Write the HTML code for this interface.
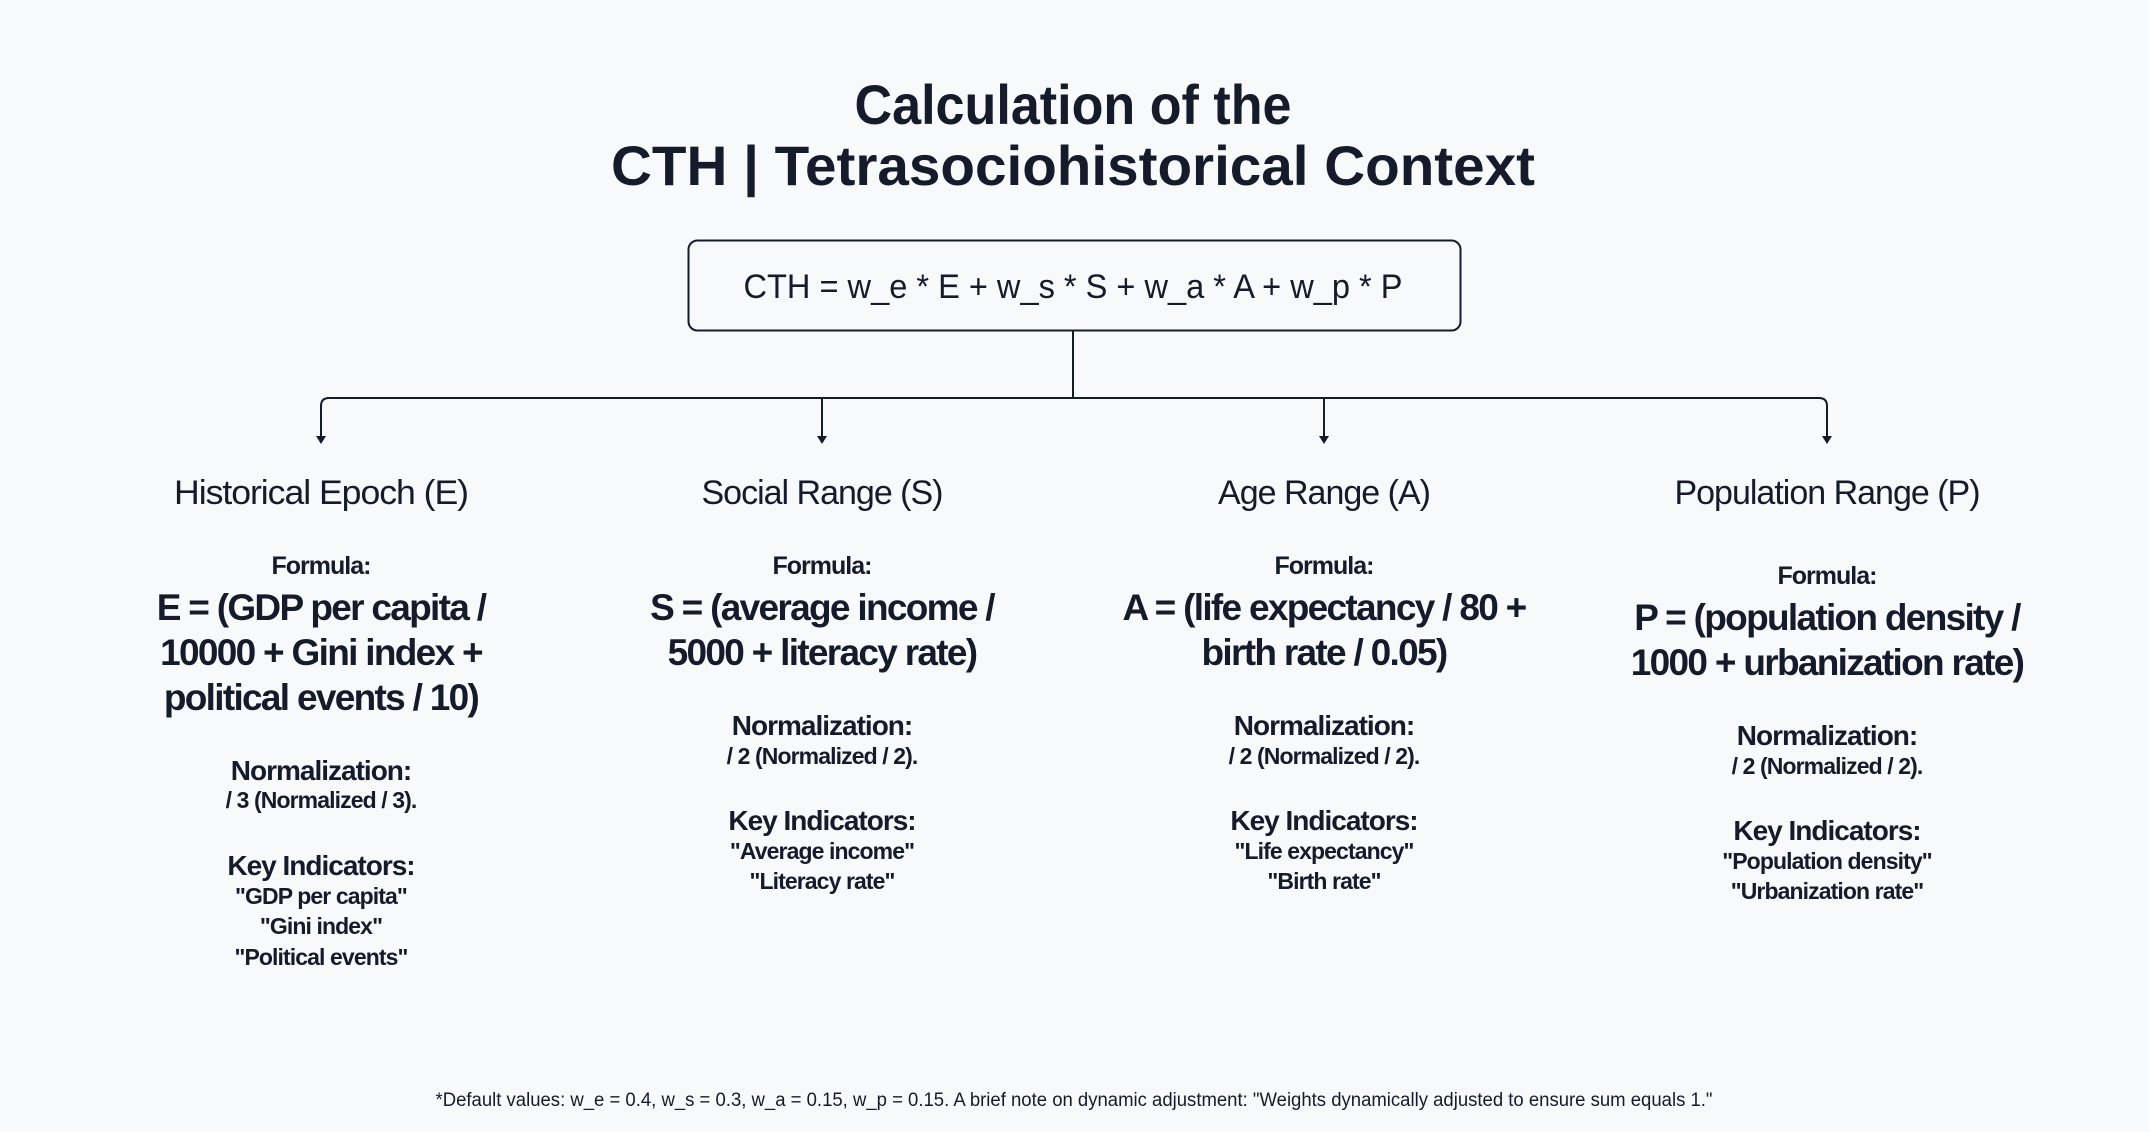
<!DOCTYPE html>
<html><head><meta charset="utf-8"><style>
html,body{margin:0;padding:0;background:#f8f9fb;}
svg{display:block;}
text{font-family:"Liberation Sans",sans-serif;fill:#161b2b;text-anchor:middle;}
.b{font-weight:bold;}
</style></head><body>
<svg width="2149" height="1132" viewBox="0 0 2149 1132" xmlns="http://www.w3.org/2000/svg">
<rect width="2149" height="1132" fill="#f8f9fb"/>
<text x="1073" y="124" class="b" font-size="56" textLength="437" lengthAdjust="spacingAndGlyphs">Calculation of the</text>
<text x="1073" y="185" class="b" font-size="56" textLength="924" lengthAdjust="spacingAndGlyphs">CTH | Tetrasociohistorical Context</text>
<rect x="688.5" y="240.5" width="772" height="90" rx="9" fill="#f8f9fb" stroke="#161b2b" stroke-width="2"/>
<text x="1073" y="298" font-size="34" textLength="659" lengthAdjust="spacingAndGlyphs">CTH = w_e * E + w_s * S + w_a * A + w_p * P</text>
<g stroke="#161b2b" stroke-width="2" fill="none">
<line x1="1073" y1="331" x2="1073" y2="398"/>
<path d="M321 438 V406 Q321 398 329 398 H1819 Q1827 398 1827 406 V438"/>
<line x1="822" y1="398" x2="822" y2="438"/>
<line x1="1324" y1="398" x2="1324" y2="438"/>
</g>
<g fill="#161b2b">
<path d="M316 436 L326 436 L321 444 Z"/>
<path d="M817 436 L827 436 L822 444 Z"/>
<path d="M1319 436 L1329 436 L1324 444 Z"/>
<path d="M1822 436 L1832 436 L1827 444 Z"/>
</g>
<g font-size="34" letter-spacing="-1">
<text x="321" y="504" textLength="294" lengthAdjust="spacingAndGlyphs">Historical Epoch (E)</text>
<text x="822" y="504">Social Range (S)</text>
<text x="1324" y="504">Age Range (A)</text>
<text x="1827" y="504">Population Range (P)</text>
</g>
<g class="b" font-size="25" letter-spacing="-1">
<text x="321" y="574">Formula:</text>
<text x="822" y="574">Formula:</text>
<text x="1324" y="574">Formula:</text>
<text x="1827" y="584">Formula:</text>
</g>
<g class="b" font-size="37" letter-spacing="-1.7">
<text x="321" y="620">E = (GDP per capita /</text>
<text x="321" y="665">10000 + Gini index +</text>
<text x="321" y="710">political events / 10)</text>
<text x="822" y="620">S = (average income /</text>
<text x="822" y="665">5000 + literacy rate)</text>
<text x="1324" y="620">A = (life expectancy / 80 +</text>
<text x="1324" y="665">birth rate / 0.05)</text>
<text x="1827" y="630">P = (population density /</text>
<text x="1827" y="675">1000 + urbanization rate)</text>
</g>
<g class="b" font-size="28" letter-spacing="-1">
<text x="321" y="780">Normalization:</text>
<text x="822" y="735">Normalization:</text>
<text x="1324" y="735">Normalization:</text>
<text x="1827" y="745">Normalization:</text>
<text x="321" y="875">Key Indicators:</text>
<text x="822" y="830">Key Indicators:</text>
<text x="1324" y="830">Key Indicators:</text>
<text x="1827" y="840">Key Indicators:</text>
</g>
<g class="b" font-size="23" letter-spacing="-0.9">
<text x="321" y="808">/ 3 (Normalized / 3).</text>
<text x="822" y="764">/ 2 (Normalized / 2).</text>
<text x="1324" y="764">/ 2 (Normalized / 2).</text>
<text x="1827" y="774">/ 2 (Normalized / 2).</text>
<text x="321" y="904">"GDP per capita"</text>
<text x="321" y="934">"Gini index"</text>
<text x="321" y="965">"Political events"</text>
<text x="822" y="859">"Average income"</text>
<text x="822" y="889">"Literacy rate"</text>
<text x="1324" y="859">"Life expectancy"</text>
<text x="1324" y="889">"Birth rate"</text>
<text x="1827" y="869">"Population density"</text>
<text x="1827" y="899">"Urbanization rate"</text>
</g>
<text x="1074" y="1106" font-size="19" textLength="1277" lengthAdjust="spacingAndGlyphs">*Default values: w_e = 0.4, w_s = 0.3, w_a = 0.15, w_p = 0.15. A brief note on dynamic adjustment: "Weights dynamically adjusted to ensure sum equals 1."</text>
</svg>
</body></html>
